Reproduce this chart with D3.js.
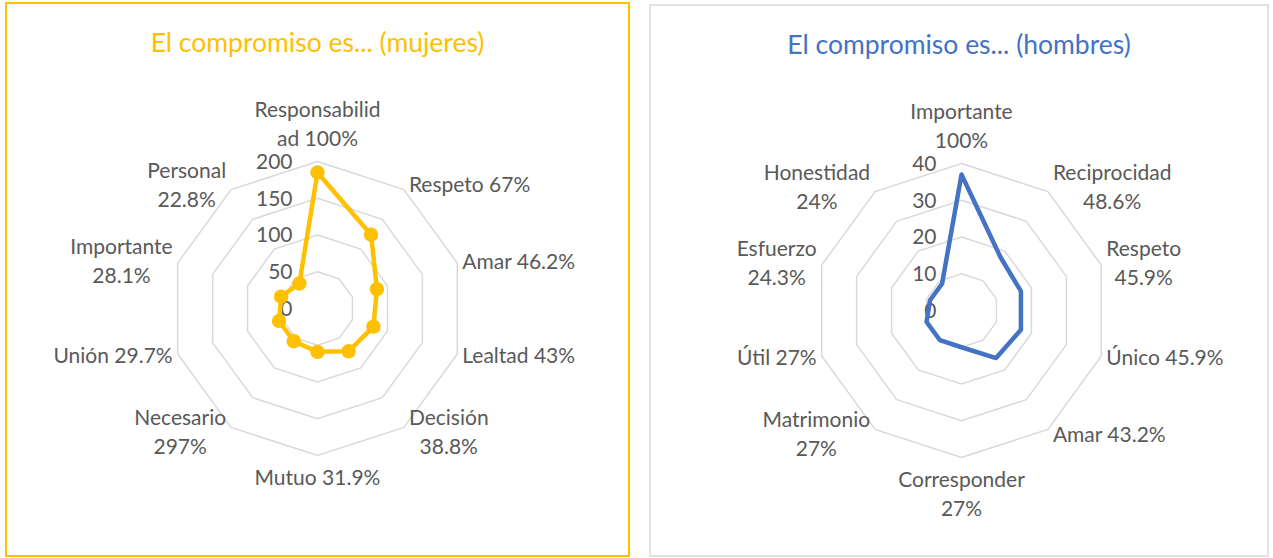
<!DOCTYPE html>
<html lang="es">
<head>
<meta charset="UTF-8">
<title>El compromiso es...</title>
<script src="https://cdn.jsdelivr.net/npm/d3@7"></script>
<style>
  body { margin: 0; background: #fff; }
  text { font-family: Lato, "Open Sans", sans-serif; }
  .grid { fill: none; stroke: #d9d9d9; stroke-width: 1.5; }
  .lbl, .tick { fill: #595959; font-size: 21px; }
</style>
</head>
<body>
<svg id="chart" width="1273" height="558"></svg>
<script>
// mujeres
const mujeresLabels = ["Responsabilid\nad 100%", "Respeto 67%", "Amar 46.2%", "Lealtad 43%", "Decisión\n38.8%",
                       "Mutuo 31.9%", "Necesario\n297%", "Unión 29.7%", "Importante\n28.1%", "Personal\n22.8%"];
const mujeresValues = [185, 124, 85, 80, 72, 59, 55, 55, 52, 42];
const mujeresTicks = [0, 50, 100, 150, 200];

// hombres
const hombresLabels = ["Importante\n100%", "Reciprocidad\n48.6%", "Respeto\n45.9%", "Único 45.9%", "Amar 43.2%",
                       "Corresponder\n27%", "Matrimonio\n27%", "Útil 27%", "Esfuerzo\n24.3%", "Honestidad\n24%"];
const hombresValues = [37, 18, 17, 17, 16, 10, 10, 10, 9, 9];
const hombresTicks = [0, 10, 20, 30, 40];

const svg = d3.select("#chart");

function radar(opt) {
    var g = svg.append("g");
    g.append("rect")
        .attr("x", opt.x).attr("y", opt.y)
        .attr("width", opt.w).attr("height", opt.h)
        .attr("fill", "#fff")
        .attr("stroke", opt.border).attr("stroke-width", opt.borderWidth);

    g.append("text")
        .attr("x", opt.x + opt.w / 2).attr("y", opt.y + 49)
        .attr("text-anchor", "middle")
        .attr("fill", opt.color)
        .style("font-size", "26.5px")
        .text(opt.title);

    var cx = opt.x + 311.5, cy = opt.y + 305.5, R = 147;
    var n = opt.labels.length;
    var angle = d3.scaleLinear().domain([0, n]).range([0, 2 * Math.PI]);
    var r = d3.scaleLinear().domain(d3.extent(opt.ticks)).range([0, R]);
    var pt = (i, v) => [cx + r(v) * Math.sin(angle(i)), cy - r(v) * Math.cos(angle(i))];

    // rings
    var ring = d3.line().curve(d3.curveLinearClosed);
    g.selectAll("path.grid").data(opt.ticks.filter(t => t > 0)).enter()
        .append("path").attr("class", "grid")
        .attr("d", t => ring(d3.range(n).map(i => pt(i, t))));

    // tick labels
    g.selectAll("text.tick").data(opt.ticks).enter()
        .append("text").attr("class", "tick")
        .attr("x", cx - 25).attr("y", t => cy - r(t))
        .attr("dy", "0.35em")
        .attr("text-anchor", "end")
        .text(t => t);

    // series
    var line = d3.line().curve(d3.curveLinearClosed);
    g.append("path")
        .attr("d", line(opt.values.map((v, i) => pt(i, v))))
        .attr("fill", "none").attr("stroke", opt.color)
        .attr("stroke-width", 4.5).attr("stroke-linejoin", "round");
    if (opt.markers) {
        g.selectAll("circle").data(opt.values).enter()
            .append("circle")
            .attr("cx", (v, i) => pt(i, v)[0]).attr("cy", (v, i) => pt(i, v)[1])
            .attr("r", 7.2).attr("fill", opt.color);
    }

    // category labels
    var lineH = 29;
    opt.labels.forEach(function(lab, i) {
        var lines = lab.split("\n");
        var dx = Math.sin(angle(i)), dy = -Math.cos(angle(i));
        var v = pt(i, opt.ticks[opt.ticks.length - 1]);
        var t = g.append("text").attr("class", "lbl").attr("text-anchor", "middle");
        var spans = lines.map(s => t.append("tspan").text(s));
        var w = d3.max(spans, s => s.node().getComputedTextLength());
        var h = lines.length * lineH;
        var bx, by;
        if (Math.abs(dx) < 0.1) {
            bx = v[0];
            by = v[1] + dy * (h / 2 + 8);
        } else {
            bx = v[0] + Math.sign(dx) * (5 + w / 2);
            by = v[1] + dy * 6;
        }
        spans.forEach(function(s, k) {
            s.attr("x", bx).attr("y", by - h / 2 + lineH * (k + 0.5)).attr("dy", "0.35em");
        });
    });
}

radar({x: 6, y: 3, w: 623, h: 553, border: "#ffc000", borderWidth: 2, color: "#ffc000",
       title: "El compromiso es... (mujeres)", labels: mujeresLabels, values: mujeresValues,
       ticks: mujeresTicks, markers: true});
radar({x: 650, y: 5, w: 618, h: 551, border: "#d9d9d9", borderWidth: 1.5, color: "#4472c4",
       title: "El compromiso es... (hombres)", labels: hombresLabels, values: hombresValues,
       ticks: hombresTicks, markers: false});
</script>
</body>
</html>
